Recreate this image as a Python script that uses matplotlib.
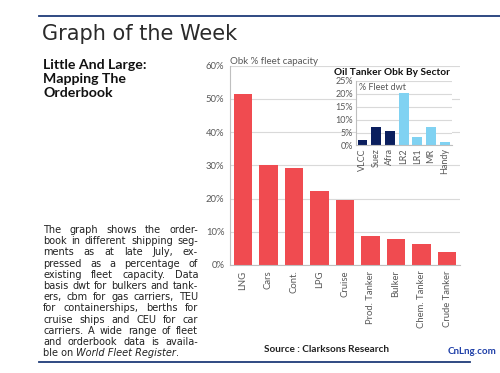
import matplotlib
matplotlib.use("Agg")
import matplotlib.pyplot as plt
import numpy as np

# data
segments = ["LNG", "Cars", "Cont.", "LPG", "Cruise", "Prod. Tanker", "Bulker",
            "Chem. Tanker", "Crude Tanker"]
obk_pct = [51.4, 30.0, 29.1, 22.4, 19.7, 8.6, 7.7, 6.4, 3.8]

tanker_sectors = ["VLCC", "Suez", "Afra", "LR2", "LR1", "MR", "Handy"]
tanker_obk = [2.2, 7.1, 5.6, 20.4, 3.2, 7.3, 1.3]
crude_sectors = ["VLCC", "Suez", "Afra"]

main_ticks = [0, 10, 20, 30, 40, 50, 60]
inset_ticks = [0, 5, 10, 15, 20, 25]

blurb = ["The graph shows the order-",
         "book in different shipping seg-",
         "ments as at late July, ex-",
         "pressed as a percentage of",
         "existing fleet capacity. Data",
         "basis dwt for bulkers and tank-",
         "ers, cbm for gas carriers, TEU",
         "for containerships, berths for",
         "cruise ships and CEU for car",
         "carriers. A wide range of fleet",
         "and orderbook data is availa-"]
last_line = [("ble on ", "normal"), ("World Fleet Register", "italic"), (".", "normal")]

RED = "#F04B50"
NAVY = "#0B1F5E"
LIGHT = "#80D2F2"
GREY = "#595959"
GRID = "#D9D9D9"
BLUE = "#1F3C78"

plt.rcParams['font.family'] = ['Lato', 'DejaVu Sans']

W, H = 500, 373
fig = plt.figure(figsize=(5, 3.73), dpi=100)

def fx(px):
    return px / W

def fy(py):
    return 1 - py / H

# frame lines
fig.add_artist(plt.Line2D([fx(39), fx(500)], [fy(15.5), fy(15.5)], color=BLUE, lw=1.3))
fig.add_artist(plt.Line2D([fx(39), fx(470)], [fy(361.5), fy(361.5)], color=BLUE, lw=1.3))

fig.text(fx(42), fy(34), "Graph of the Week", fontsize=15, color="#2a2a2a",
         va="center", ha="left", family="DejaVu Sans")
fig.text(fx(43), fy(79), "Little And Large:\nMapping The\nOrderbook", fontsize=10.2,
         fontweight="bold", color="#111111", va="center", ha="left", linespacing=1.2)

# main chart
ax = fig.add_axes([fx(230), fy(265), fx(460) - fx(230), fy(65.7) - fy(265)])
x = np.arange(len(segments))
ax.bar(x, obk_pct, width=0.72, color=RED, zorder=2)
ax.set_xlim(-0.5, len(segments) - 0.5)
ax.set_ylim(0, 60)
ax.set_yticks(main_ticks)
ax.set_yticklabels([f"{t}%" for t in main_ticks])
ax.set_xticks(x)
ax.set_xticklabels(segments, rotation=90)
ax.tick_params(axis="both", colors=GREY, labelsize=6.8, length=0, pad=4)
ax.yaxis.grid(True, color=GRID, lw=0.8, zorder=0)
for s in ["top", "right"]:
    ax.spines[s].set_visible(False)
for s in ["left", "bottom"]:
    ax.spines[s].set_color("#BFBFBF")
ax.text(0.0, 1.0, "Obk % fleet capacity", transform=ax.transAxes, fontsize=7,
        color=GREY, ha="left", va="bottom")

# inset chart
ins = fig.add_axes([fx(355.7), fy(145.5), fx(451.6) - fx(355.7), fy(81) - fy(145.5)])
xi = np.arange(len(tanker_sectors))
cols = [NAVY if s in crude_sectors else LIGHT for s in tanker_sectors]
ins.bar(xi, tanker_obk, width=0.72, color=cols, zorder=2)
ins.set_xlim(-0.5, len(tanker_sectors) - 0.5)
ins.set_ylim(0, 25)
ins.set_yticks(inset_ticks)
ins.set_yticklabels([f"{t}%" for t in inset_ticks])
ins.set_xticks(xi)
ins.set_xticklabels(tanker_sectors, rotation=90)
ins.tick_params(axis="both", colors=GREY, labelsize=6.5, length=0, pad=2)
ins.yaxis.grid(True, color=GRID, lw=0.8, zorder=0)
for s in ["top", "right"]:
    ins.spines[s].set_visible(False)
for s in ["left", "bottom"]:
    ins.spines[s].set_color("#BFBFBF")
ins.text(0.03, 0.97, "% Fleet dwt", transform=ins.transAxes, fontsize=6.5,
         color=GREY, ha="left", va="top")
ins.set_title("Oil Tanker Obk By Sector", fontsize=7.3, fontweight="bold",
              color="#111111", pad=4, x=0.38)

fig.text(fx(327), fy(349), "Source : Clarksons Research", fontsize=7.2,
         fontweight="bold", color="#222222", ha="center", va="center")

# justified blurb
renderer = fig.canvas.get_renderer()
x0, x1 = 43, 198
y0, dy = 230, 11.2
fs = 7.0
for i, line in enumerate(blurb):
    words = line.split()
    yy = fy(y0 + i * dy)
    texts = [fig.text(fx(x0), yy, w, fontsize=fs, color="#222222", va="center",
                      family="DejaVu Sans") for w in words]
    widths = [t.get_window_extent(renderer).width for t in texts]
    gap = (x1 - x0 - sum(widths)) / (len(words) - 1)
    if gap < 2.0:
        scale = (x1 - x0 - 2.0 * (len(words) - 1)) / sum(widths)
        for t in texts:
            t.set_fontsize(fs * scale)
        widths = [w * scale for w in widths]
        gap = 2.0
    pos = x0
    for t, w in zip(texts, widths):
        t.set_x(fx(pos))
        pos += w + gap
pos = x0
yy = fy(y0 + len(blurb) * dy)
for part, style in last_line:
    t = fig.text(fx(pos), yy, part, fontsize=fs, color="#222222", va="center",
                 style=style, family="DejaVu Sans")
    pos += t.get_window_extent(renderer).width

fig.text(fx(472), fy(352), "CnLng.com", fontsize=7, fontweight="bold",
         color="#1E3FA8", ha="center", va="center")

fig.savefig("out.png", dpi=100)
